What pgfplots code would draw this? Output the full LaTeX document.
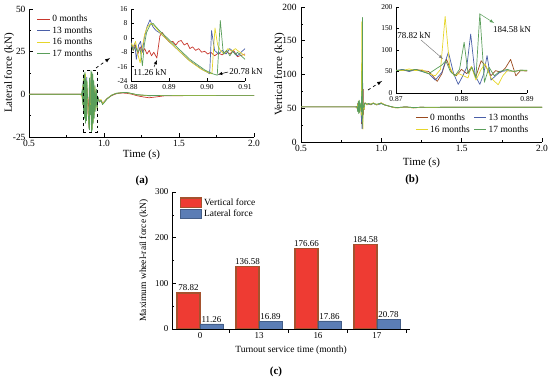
\documentclass[border=0pt]{standalone}
\usepackage{fontspec}
\setmainfont{Liberation Serif}
\usepackage{pgfplots}
\usepackage{pgfplotstable}
\pgfplotsset{compat=1.18}

\definecolor{cA}{HTML}{C8372D}
\definecolor{cB}{HTML}{9A4A1E}
\definecolor{cblue}{HTML}{4A5FA8}
\definecolor{cyel}{HTML}{E6D62A}
\definecolor{cgrn}{HTML}{5A9E5A}
\definecolor{barred}{HTML}{EE3B33}
\definecolor{barbrown}{HTML}{A5522E}
\definecolor{barblue}{HTML}{5B7DB5}

\newcommand{\fs}[1]{\fontsize{#1}{#1}\selectfont}

% ---------------- lateral force (a) ----------------
\pgfplotstableread{
t v
0.50 0
0.60 0
0.70 0
0.80 0
0.84 0
0.850 0.2
0.855 -1.5
0.858 3
0.861 -4
0.864 6
0.867 -8
0.870 4
0.873 -10
0.876 7
0.878 -6
0.8800 -3
0.8806 -7
0.8812 -4
0.8818 -9
0.8824 -5
0.8830 -8
0.8836 -6
0.8842 -9
0.8848 -7
0.8854 -10
0.8860 -8
0.8868 -11.26
0.8876 1
0.8882 3
0.8888 1
0.8895 -1
0.8902 -2.5
0.8910 -2
0.8918 -4
0.8925 -2
0.8932 -1.5
0.8940 -4
0.8948 -3
0.8955 -6
0.8962 -5
0.8970 -7
0.8978 -6
0.8986 -8
0.8994 -7.5
0.9002 -9
0.9010 -8
0.9020 -10
0.9030 -8.5
0.9040 -9.5
0.9050 -7.5
0.9060 -9
0.9070 -7
0.9080 -10.5
0.910 -9
0.913 4
0.916 -12
0.919 6
0.922 -14
0.925 5
0.928 -10
0.931 3
0.935 -8
0.940 2
0.945 -7
0.950 0
0.955 -6
0.960 -2
0.970 -4
0.980 -3.5
0.990 -5
1.000 -4.5
1.020 -2.5
1.050 -0.8
1.080 0.3
1.120 0.8
1.150 0.6
1.180 0.2
1.220 -0.8
1.260 -1.5
1.300 -2
1.340 -1.6
1.400 -0.9
1.600 -0.7
1.800 -0.6
2.000 -0.6
}\LatA

\pgfplotstableread{
t v
0.50 0
0.60 0
0.70 0
0.80 0
0.84 0
0.850 -0.3
0.855 2
0.858 -5
0.861 7
0.864 -9
0.867 10
0.870 -12
0.873 8
0.876 -15
0.878 5
0.8800 -2
0.8805 -6
0.8810 -3
0.8814 -12
0.8820 -4
0.8825 -2
0.8830 -8
0.8835 0
0.8842 6
0.8850 10
0.8858 6
0.8866 4
0.8874 3
0.8882 1.5
0.8890 0
0.8900 -2
0.8910 -4
0.8920 -6
0.8930 -8
0.8940 -10
0.8950 -12
0.8960 -13.5
0.8970 -15
0.8980 -16.5
0.8990 -18
0.9000 -19
0.9007 -20
0.9012 4
0.9020 -7
0.9030 -9
0.9040 -7
0.9050 -9
0.9060 -6
0.9070 -8
0.9080 -10
0.910 -6
0.913 10
0.916 -16
0.919 12
0.922 -18
0.925 9
0.928 -13
0.931 6
0.935 -10
0.940 3
0.945 -8
0.950 1
0.955 -7
0.960 -2.5
0.970 -4.5
0.980 -3.5
0.990 -5.5
1.000 -4.5
1.020 -2.5
1.050 -0.5
1.080 0.6
1.120 1.0
1.150 1.0
1.180 0.5
1.220 -0.3
1.300 -0.8
1.400 -0.6
1.600 -0.7
1.800 -0.6
2.000 -0.6
}\LatB

\pgfplotstableread{
t v
0.50 0
0.60 0
0.70 0
0.80 0
0.84 0
0.850 0.4
0.855 -3
0.858 5
0.861 -7
0.864 9
0.867 -11
0.870 11
0.873 -13
0.876 12
0.878 -9
0.8800 -3
0.8806 -5
0.8812 -2
0.8818 -9
0.8824 -14
0.8830 -5
0.8836 2
0.8843 6
0.8852 8
0.8860 7
0.8868 5
0.8876 3
0.8885 1
0.8895 -1
0.8905 -3
0.8915 -5
0.8925 -7
0.8935 -9
0.8945 -11
0.8955 -13
0.8965 -14.5
0.8975 -16
0.8985 -17.5
0.8995 -18.5
0.9005 -19.5
0.9013 -20
0.9021 5.5
0.9028 -4
0.9035 -7
0.9045 -9
0.9055 -6
0.9065 -7.5
0.9075 -6
0.9080 -7
0.910 -10
0.913 12
0.916 -18
0.919 13
0.922 -20
0.925 11
0.928 -16
0.931 7
0.935 -12
0.940 4
0.945 -9
0.950 2
0.955 -8
0.960 -2
0.970 -4
0.980 -3
0.990 -5.5
1.000 -4.5
1.020 -2.5
1.050 -0.5
1.080 0.6
1.120 1.0
1.150 1.0
1.180 0.5
1.220 -0.3
1.300 -0.8
1.400 -0.6
1.600 -0.7
1.800 -0.6
2.000 -0.6
}\LatC

\pgfplotstableread{
t v
0.50 0
0.60 0
0.70 0
0.80 0
0.84 0
0.850 -0.5
0.855 3
0.858 -6
0.861 8
0.864 -10
0.867 12
0.870 -14
0.873 13
0.876 -17
0.878 9
0.8800 -4
0.8806 -7
0.8812 -5
0.8818 -8
0.8824 -6
0.8830 -15.5
0.8835 -4
0.8841 3
0.8850 7
0.8858 8
0.8866 6
0.8875 4
0.8885 2
0.8895 0
0.8905 -2
0.8915 -4
0.8925 -6
0.8935 -8
0.8945 -10
0.8955 -12
0.8965 -13.5
0.8975 -15
0.8985 -16.5
0.8995 -18
0.9005 -19
0.9015 -20
0.9027 -20.78
0.9035 9.6
0.9043 -9
0.9052 -7
0.9060 -10
0.9068 -7.5
0.9075 -9.5
0.9080 -8
0.910 -12
0.913 14
0.916 -22
0.919 13
0.922 -21
0.925 12
0.928 -17
0.931 8
0.935 -14
0.940 5
0.945 -10
0.950 3
0.955 -8.5
0.960 -1.5
0.970 -4.5
0.980 -3.5
0.990 -6
1.000 -5
1.020 -2.8
1.050 -0.6
1.080 0.5
1.120 1.0
1.150 1.1
1.180 0.6
1.220 -0.2
1.300 -0.7
1.400 -0.6
1.600 -0.6
1.800 -0.6
2.000 -0.6
}\LatD

% ---------------- vertical force (b) ----------------
\pgfplotstableread{
t v
0.50 52
0.60 52
0.70 52
0.80 52
0.84 52
0.850 50
0.853 57
0.856 47
0.859 59
0.862 45
0.865 57
0.868 49
0.8700 52
0.8710 53
0.8720 51
0.8730 55
0.8740 52
0.8750 50
0.8756 40
0.8763 27
0.8770 45
0.8777 78.82
0.8785 48
0.8792 40
0.8800 55
0.8808 45
0.8815 60
0.8822 38
0.8830 75
0.8837 62
0.8845 40
0.8852 52
0.8860 48
0.8867 58
0.8875 78
0.8883 40
0.8890 52
0.893 48
0.896 56
0.900 58
0.910 55
0.920 57
0.935 55
0.950 58
0.970 55
0.990 57
1.000 58
1.020 55
1.050 53
1.080 51
1.100 50.5
1.150 52
1.200 50.5
1.250 51.5
1.300 51
1.400 51.5
1.600 51.5
1.800 51.5
2.000 51.5
}\VerA

\pgfplotstableread{
t v
0.50 52
0.60 52
0.70 52
0.80 52
0.84 52
0.850 53
0.853 46
0.856 58
0.859 44
0.862 60
0.865 46
0.868 56
0.8700 52
0.8710 55
0.8720 50
0.8730 54
0.8740 50
0.8750 45
0.8760 30
0.8770 48
0.8780 95
0.8788 45
0.8795 20
0.8802 40
0.8808 60
0.8814 137
0.8821 40
0.8828 20
0.8834 45
0.8839 87
0.8845 30
0.8852 40
0.8860 50
0.8870 52
0.8880 50
0.8890 53
0.893 50
0.896 57
0.900 57
0.910 56
0.920 56
0.935 56
0.950 57
0.970 55
0.990 56
1.000 57
1.020 55
1.050 53
1.080 51
1.100 51
1.150 52
1.200 51
1.250 51.5
1.300 51
1.400 51.5
1.600 51.5
1.800 51.5
2.000 51.5
}\VerB

\pgfplotstableread{
t v
0.50 52
0.60 52
0.70 52
0.80 52
0.84 52
0.850 51
0.853 56
0.856 45
0.859 61
0.862 43
0.865 58
0.868 47
0.8700 53
0.8710 52
0.8720 56
0.8730 52
0.8740 54
0.8750 45
0.8760 40
0.8768 55
0.8775 178
0.8782 60
0.8789 40
0.8796 45
0.8803 40
0.8810 35
0.8815 62
0.8822 30
0.8830 55
0.8836 68
0.8845 35
0.8856 19
0.8863 40
0.8870 52
0.8880 50
0.8890 53
0.893 49
0.896 57
0.900 58
0.910 55
0.920 57
0.935 56
0.950 58
0.970 55
0.990 57
1.000 58
1.020 55
1.050 53
1.080 51
1.100 50.5
1.150 52
1.200 50.5
1.250 51.5
1.300 51
1.400 51.5
1.600 51.5
1.800 51.5
2.000 51.5
}\VerC

\pgfplotstableread{
t v
0.50 52
0.60 52
0.70 52
0.80 52
0.84 52
0.850 52
0.853 45
0.856 60
0.859 42
0.862 62
0.865 44
0.868 58
0.8700 52
0.8710 54
0.8720 52
0.8730 55
0.8740 50
0.8750 45
0.8760 55
0.8770 65
0.8776 75
0.8783 50
0.8790 40
0.8797 55
0.8804 118
0.8810 45
0.8816 60
0.8822 35
0.8828 184.58
0.8835 25
0.8842 60
0.8850 40
0.8858 50
0.8870 55
0.8880 50
0.8890 53
0.893 52
0.896 58
0.900 57
0.910 56
0.920 57
0.935 56
0.950 57
0.970 56
0.990 57
1.000 57
1.020 55
1.050 53
1.080 51.5
1.100 51
1.150 52
1.200 51
1.250 51.5
1.300 51.5
1.400 51.5
1.600 51.5
1.800 51.5
2.000 51.5
}\VerD

\pgfplotsset{
  base/.style={
    scale only axis,
    axis x line*=bottom,
    axis y line*=left,
    tick align=inside,
    axis line style={line width=0.6pt},
    every tick/.style={line width=0.5pt,black},
    major tick length=3.5bp,
    minor tick length=2bp,
    scaled ticks=false,
    /pgf/number format/assume math mode=true,
    ticklabel style={font=\fs{9.5}},
    label style={font=\fs{11}},
  },
  inset/.style={
    base,
    ticklabel style={font=\fs{7.5}},
    major tick length=2.5bp,
  },
  curve/.style={line width=0.7pt, line join=round},
}

\begin{document}
\begin{tikzpicture}
\useasboundingbox (0bp,0bp) rectangle (550bp,380bp);

% ================= (a) main =================
\begin{axis}[base, at={(29bp,243bp)}, anchor=south west,
  width=225bp, height=128bp,
  xmin=0.5, xmax=2, ymin=-25, ymax=50,
  xtick={0.5,1,1.5,2}, ytick={-25,0,25,50},
  minor x tick num=1, minor y tick num=1,
  xticklabel style={/pgf/number format/.cd,fixed,fixed zerofill,precision=1},
  xlabel={Time (s)}, ylabel={Lateral force (kN)},
  xlabel style={at={(axis description cs:0.5,-0.14)}, anchor=center},
  ylabel style={at={(axis description cs:-0.088,0.5)}, anchor=center},
  legend style={at={(0.02,0.985)}, anchor=north west, draw=none, fill=none,
    font=\fs{9.5}, row sep=-0.5bp},
  legend cell align=left,
  legend image code/.code={\draw[#1,line width=0.8pt] (0bp,0bp) -- (13bp,0bp);},
]
\addplot[curve, cA] table[x=t,y=v] {\LatA};
\addplot[curve, cblue] table[x=t,y=v] {\LatB};
\addplot[curve, cyel] table[x=t,y=v] {\LatC};
\addplot[curve, cgrn] table[x=t,y=v] {\LatD};
\legend{0 months,13 months,16 months,17 months}
\end{axis}

% ================= (a) inset =================
\begin{axis}[inset, at={(131bp,299bp)}, anchor=south west,
  width=114bp, height=72bp,
  xmin=0.88, xmax=0.91, ymin=-24, ymax=16,
  restrict x to domain=0.878:0.911,
  xtick={0.88,0.89,0.90,0.91}, ytick={-24,-16,-8,0,8,16},
  xticklabel style={/pgf/number format/.cd,fixed,fixed zerofill,precision=2},
]
\addplot[curve, cA] table[x=t,y=v] {\LatA};
\addplot[curve, cblue] table[x=t,y=v] {\LatB};
\addplot[curve, cyel] table[x=t,y=v] {\LatC};
\addplot[curve, cgrn] table[x=t,y=v] {\LatD};
\end{axis}

% annotations (a)
\draw[dashed, line width=0.5pt] (83bp,248bp) rectangle (97bp,310bp);
\draw[dashed, line width=0.7pt, -latex] (96bp,312bp) -- (110bp,322bp);
\node[font=\fs{9}] at (150bp,308bp) {11.26 kN};
\draw[-latex, line width=0.5pt] (154bp,313bp) -- (157bp,320bp);
\node[font=\fs{9}] at (246bp,309bp) {20.78 kN};
\draw[-latex, line width=0.5pt] (228bp,308bp) -- (218bp,305.5bp);
\node[font=\bfseries\fs{11}] at (142bp,199bp) {(a)};

% ================= (b) main =================
\begin{axis}[base, at={(301bp,238bp)}, anchor=south west,
  width=241bp, height=135bp,
  xmin=0.5, xmax=2, ymin=0, ymax=200,
  xtick={0.5,1,1.5,2}, ytick={0,50,100,150,200},
  minor x tick num=1, minor y tick num=1,
  xticklabel style={/pgf/number format/.cd,fixed,fixed zerofill,precision=1},
  yticklabel style={xshift=-1bp},
  xlabel={Time (s)}, ylabel={Vertical force (kN)},
  xlabel style={at={(axis description cs:0.5,-0.155)}, anchor=center},
  ylabel style={at={(axis description cs:-0.09,0.5)}, anchor=center},
  legend style={at={(0.965,0.03)}, anchor=south east, draw=none, fill=none,
    font=\fs{9.5}, row sep=0bp,
    /tikz/every even column/.append style={column sep=2bp}},
  legend columns=2,
  legend cell align=left,
  legend image code/.code={\draw[#1,line width=0.8pt] (0bp,0bp) -- (12bp,0bp);},
]
\addplot[curve, cB] table[x=t,y=v] {\VerA};
\addplot[curve, cblue] table[x=t,y=v] {\VerB};
\addplot[curve, cyel] table[x=t,y=v] {\VerC};
\addplot[curve, cgrn] table[x=t,y=v] {\VerD};
\legend{0 months,13 months,16 months,17 months}
\end{axis}

% ================= (b) inset =================
\begin{axis}[inset, at={(396bp,287bp)}, anchor=south west,
  width=131bp, height=86bp,
  xmin=0.87, xmax=0.89, ymin=0, ymax=200,
  restrict x to domain=0.868:0.893,
  xtick={0.87,0.88,0.89}, ytick={0,50,100,150,200},
  xticklabel style={/pgf/number format/.cd,fixed,fixed zerofill,precision=2},
]
\addplot[curve, cB] table[x=t,y=v] {\VerA};
\addplot[curve, cblue] table[x=t,y=v] {\VerB};
\addplot[curve, cyel] table[x=t,y=v] {\VerC};
\addplot[curve, cgrn] table[x=t,y=v] {\VerD};
\end{axis}

% annotations (b)
\draw[dashed, line width=0.7pt, -latex] (368bp,290bp) -- (382bp,299bp);
\node[font=\fs{9}] at (414bp,345bp) {78.82 kN};
\draw[-latex, line width=0.5pt, gray] (421bp,340bp) -- (443bp,321bp);
\node[font=\fs{9}] at (512bp,351bp) {184.58 kN};
\draw[-latex, line width=0.5pt, cgrn] (480bp,366bp) -- (494bp,357bp);
\node[font=\bfseries\fs{11}] at (412bp,200bp) {(b)};

% ================= (c) bars =================
\begin{axis}[base, at={(172bp,51bp)}, anchor=south west,
  width=238bp, height=137bp,
  ybar=0pt, bar width=23bp,
  xmin=-0.475, xmax=3.56, ymin=0, ymax=300,
  ytick={0,100,200,300}, minor y tick num=1,
  xtick={0.5,1.5,2.5,3.5}, xticklabels={},
  extra x ticks={0,1,2,3}, extra x tick labels={0,13,16,17},
  extra x tick style={major tick length=0pt},
  ticklabel style={font=\fs{9}},
  label style={font=\fs{9.5}},
  xlabel={Turnout service time (month)},
  ylabel={Maximum wheel-rail force (kN)},
  xlabel style={at={(axis description cs:0.5,-0.153)}, anchor=center},
  ylabel style={at={(axis description cs:-0.118,0.5)}, anchor=center},
  nodes near coords={\pgfmathprintnumber[fixed,fixed zerofill,precision=2]{\pgfplotspointmeta}},
  every node near coord/.append style={font=\fs{9}, inner sep=1.5bp},
  legend style={at={(0.02,0.98)}, anchor=north west, draw=none, fill=none,
    font=\fs{9.5}, row sep=-1bp},
  legend cell align=left,
  legend image code/.code={\draw[#1] (0bp,-4.5bp) rectangle (21bp,5bp);},
]
\addplot[fill=barred, draw=barbrown, line width=1.2pt]
  coordinates {(0,78.82) (1,136.58) (2,176.66) (3,184.58)};
\addplot[fill=barblue, draw=barblue!75!black, line width=0.4pt]
  coordinates {(0,11.26) (1,16.89) (2,17.86) (3,20.78)};
\legend{Vertical force,Lateral force}
\end{axis}
\node[font=\bfseries\fs{11}] at (276bp,8bp) {(c)};

\end{tikzpicture}
\end{document}
